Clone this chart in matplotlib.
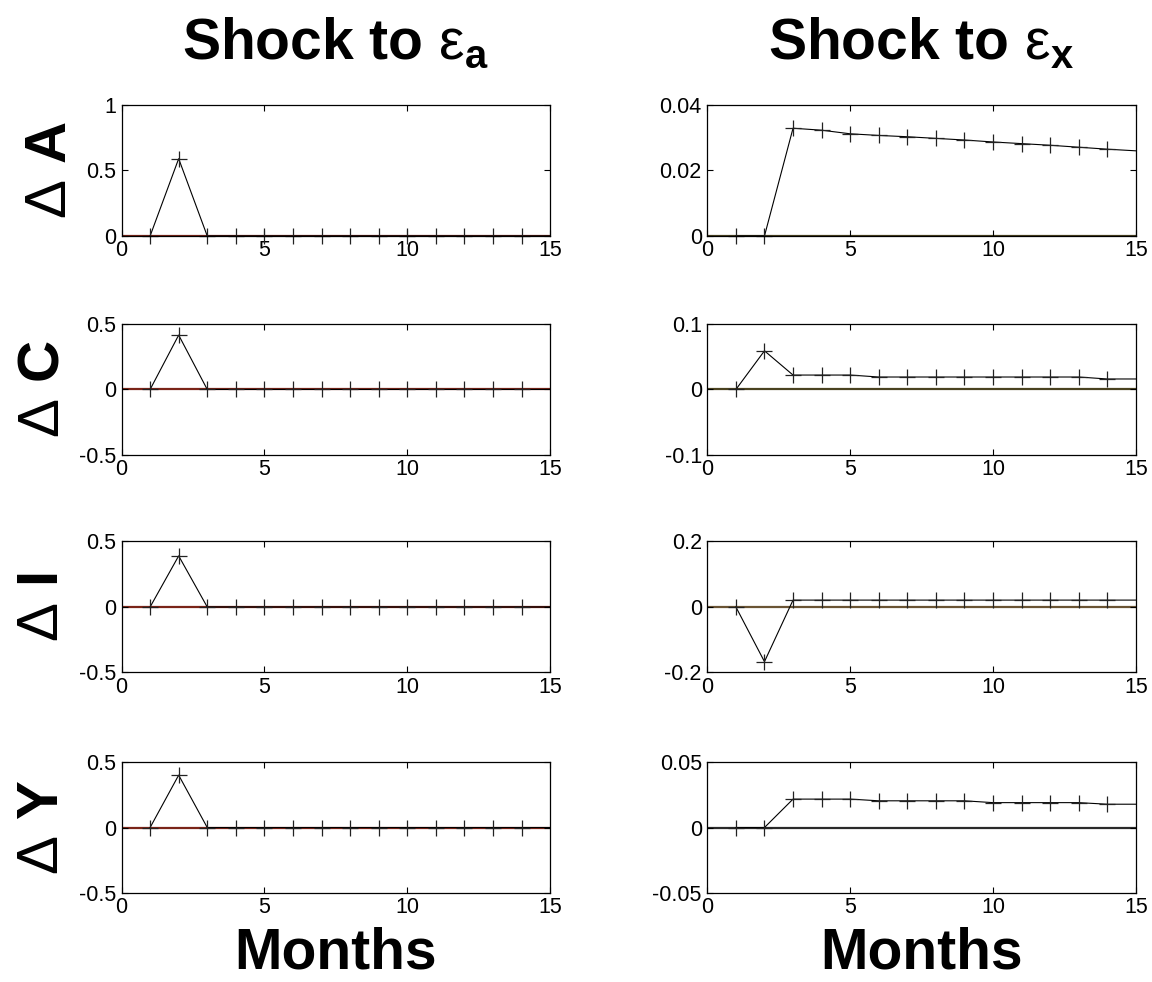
import numpy as np
import matplotlib
matplotlib.use("Agg")
import matplotlib.pyplot as plt

plt.rcParams['font.family'] = ['Liberation Sans', 'DejaVu Sans']
plt.rcParams['mathtext.fontset'] = 'custom'
plt.rcParams['mathtext.rm'] = 'Liberation Sans'
plt.rcParams['mathtext.it'] = 'Liberation Sans:italic'
plt.rcParams['mathtext.bf'] = 'Liberation Sans:bold'

months = np.arange(1, 16)

# impulse responses to a shock in eps_a
a_resp_A = [0, 0.59, 0, 0, 0, 0, 0, 0, 0, 0, 0, 0, 0, 0, 0]
a_resp_C = [0, 0.415, 0, 0, 0, 0, 0, 0, 0, 0, 0, 0, 0, 0, 0]
a_resp_I = [0, 0.39, 0, 0, 0, 0, 0, 0, 0, 0, 0, 0, 0, 0, 0]
a_resp_Y = [0, 0.40, 0, 0, 0, 0, 0, 0, 0, 0, 0, 0, 0, 0, 0]

# impulse responses to a shock in eps_x
x_resp_A = [0, 0, 0.0329, 0.0323, 0.0312, 0.0307, 0.0303, 0.0298, 0.0293,
            0.0287, 0.0282, 0.0277, 0.0271, 0.0265, 0.0260]
x_resp_C = [0, 0.059, 0.022, 0.022, 0.022, 0.019, 0.019, 0.019, 0.019,
            0.019, 0.019, 0.019, 0.019, 0.016, 0.016]
x_resp_I = [0, -0.167, 0.021, 0.021, 0.021, 0.021, 0.021, 0.021, 0.021,
            0.021, 0.021, 0.021, 0.021, 0.021, 0.021]
x_resp_Y = [0, 0, 0.0217, 0.0217, 0.0217, 0.0204, 0.0204, 0.0204, 0.0204,
            0.019, 0.019, 0.019, 0.019, 0.0178, 0.0178]

var_names = ['A', 'C', 'I', 'Y']
left_data = [a_resp_A, a_resp_C, a_resp_I, a_resp_Y]
right_data = [x_resp_A, x_resp_C, x_resp_I, x_resp_Y]

left_yticks = [[0, 0.5, 1], [-0.5, 0, 0.5], [-0.5, 0, 0.5], [-0.5, 0, 0.5]]
left_ylabels = [['0', '0.5', '1'], ['-0.5', '0', '0.5'], ['-0.5', '0', '0.5'], ['-0.5', '0', '0.5']]
right_yticks = [[0, 0.02, 0.04], [-0.1, 0, 0.1], [-0.2, 0, 0.2], [-0.05, 0, 0.05]]
right_ylabels = [['0', '0.02', '0.04'], ['-0.1', '0', '0.1'], ['-0.2', '0', '0.2'], ['-0.05', '0', '0.05']]

xticks = [0, 5, 10, 15]

left_zero_col = ['#7a2418', '#7a2418', '#7a2418', '#7a2418']
right_zero_col = ['#4a4220', '#4a4220', '#6a5434', '#2a2a2a']

fig = plt.figure(figsize=(11.52, 9.82), dpi=100)

col_x = [0.1055, 0.614]
col_w = 0.372
row_y = [0.7597, 0.5367, 0.3152, 0.0906]
row_h = 0.1334


def draw_panel(ax, y, yticks, ylabels, zcol):
    ax.axhline(0, color=zcol, lw=1.6, zorder=1)
    ax.plot(months, y, color='black', lw=0.8, marker='+', markersize=11,
            markeredgewidth=0.9, markeredgecolor='#222222',
            markevery=list(range(14)), clip_on=False, zorder=2)
    ax.set_xlim(0, 15)
    ax.set_ylim(yticks[0], yticks[-1])
    ax.set_xticks(xticks)
    ax.set_xticklabels([str(t) for t in xticks])
    ax.set_yticks(yticks)
    ax.set_yticklabels(ylabels)
    ax.tick_params(direction='in', length=4, width=0.8, top=True, right=True,
                   labelsize=15.5)
    ax.tick_params(axis='x', pad=3)
    ax.tick_params(axis='y', pad=4)
    for s in ax.spines.values():
        s.set_linewidth(0.9)


for r in range(4):
    axl = fig.add_axes([col_x[0], row_y[r], col_w, row_h])
    draw_panel(axl, left_data[r], left_yticks[r], left_ylabels[r], left_zero_col[r])
    axl.set_ylabel(r'$\Delta\ \mathbf{' + var_names[r] + '}$', fontsize=42,
                   labelpad=6)

    axr = fig.add_axes([col_x[1], row_y[r], col_w, row_h])
    draw_panel(axr, right_data[r], right_yticks[r], right_ylabels[r], right_zero_col[r])

    if r == 0:
        axl.set_title(r'$\mathbf{Shock\ to}\ \mathrm{\varepsilon}_{\mathbf{a}}$',
                      fontsize=41, pad=33)
        axr.set_title(r'$\mathbf{Shock\ to}\ \mathrm{\varepsilon}_{\mathbf{x}}$',
                      fontsize=41, pad=33)
    if r == 3:
        axl.set_xlabel('Months', fontsize=41, fontweight='bold', labelpad=6)
        axr.set_xlabel('Months', fontsize=41, fontweight='bold', labelpad=6)

fig.savefig('out.png', dpi=100, facecolor='white')
